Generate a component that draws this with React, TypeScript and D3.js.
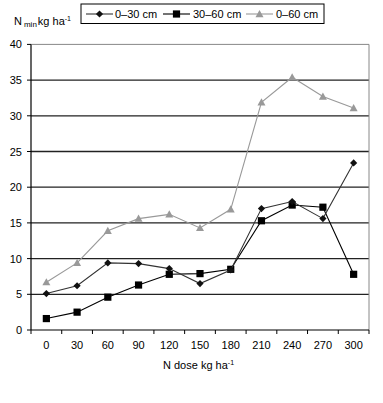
import React from "react";
import * as d3 from "d3";

const doses = ["0", "30", "60", "90", "120", "150", "180", "210", "240", "270", "300"];
const s0_30 = [5.1, 6.2, 9.4, 9.3, 8.6, 6.5, 8.4, 17.0, 18.0, 15.6, 23.4];
const s30_60 = [1.6, 2.5, 4.6, 6.3, 7.8, 7.9, 8.5, 15.3, 17.5, 17.2, 7.8];
const s0_60 = [6.7, 9.4, 13.9, 15.6, 16.2, 14.3, 16.9, 31.9, 35.4, 32.7, 31.1];
const yTicks = [0, 5, 10, 15, 20, 25, 30, 35, 40];
const seriesNames = ["0–30 cm", "30–60 cm", "0–60 cm"];

const W = 383, H = 403;
const L = 31, R = 369, T = 44.4, B = 330;
const FONT = "'Liberation Sans', Arial, sans-serif";

function Marker({ kind, x, y }: { kind: string; x: number; y: number }) {
  if (kind === "diamond") {
    const s = 3.6;
    return <path d={`M${x},${y - s}L${x + s},${y}L${x},${y + s}L${x - s},${y}Z`} fill="#111" />;
  }
  if (kind === "square") {
    const s = 3.6;
    return <rect x={x - s} y={y - s} width={2 * s} height={2 * s} fill="#000" />;
  }
  const s = 4;
  return <path d={`M${x},${y - s}L${x + s},${y + s * 0.8}L${x - s},${y + s * 0.8}Z`} fill="#999" />;
}

export default function App() {
  const x = d3.scaleBand<string>().domain(doses).range([L, R]);
  const y = d3.scaleLinear().domain([0, 40]).range([B, T]);
  const cx = (d: string) => (x(d) as number) + x.bandwidth() / 2;

  const series = [
    { name: seriesNames[0], data: s0_30, color: "#333", kind: "diamond" },
    { name: seriesNames[1], data: s30_60, color: "#000", kind: "square" },
    { name: seriesNames[2], data: s0_60, color: "#999", kind: "triangle" },
  ];
  const line = d3
    .line<number>()
    .x((_, i) => cx(doses[i]))
    .y((v) => y(v));

  const legendItems = [
    { x1: 86, x2: 113, tx: 115 },
    { x1: 163, x2: 190, tx: 193 },
    { x1: 246, x2: 273, tx: 276 },
  ];

  return (
    <svg width={W} height={H} style={{ position: "absolute", left: 0, top: 0, background: "#fff" }} fontFamily={FONT}>
      {/* gridlines */}
      {yTicks.filter((t) => t > 0 && t < 40).map((t) => (
        <line key={t} x1={L} x2={R} y1={y(t)} y2={y(t)} stroke="#222" strokeWidth={1.3} />
      ))}
      {/* plot border top/right */}
      <line x1={L} x2={R} y1={y(40)} y2={y(40)} stroke="#888" strokeWidth={1} />
      <line x1={R} x2={R} y1={y(40)} y2={B} stroke="#888" strokeWidth={1} />
      {/* axes */}
      <line x1={L} x2={L} y1={y(40)} y2={B} stroke="#000" strokeWidth={1.2} />
      <line x1={L} x2={R} y1={B} y2={B} stroke="#000" strokeWidth={1.2} />
      {yTicks.map((t) => (
        <g key={t}>
          <line x1={L - 4} x2={L} y1={y(t)} y2={y(t)} stroke="#000" />
          <text x={22} y={y(t) + 4} textAnchor="end" fontSize={11} fill="#000">{t}</text>
        </g>
      ))}
      {doses.map((d, i) => (
        <g key={d}>
          <line x1={(x(d) as number)} x2={(x(d) as number)} y1={B} y2={B + 4} stroke="#000" />
          {i === doses.length - 1 && (
            <line x1={R} x2={R} y1={B} y2={B + 4} stroke="#000" />
          )}
          <text x={cx(d)} y={B + 19} textAnchor="middle" fontSize={11} fill="#000">{d}</text>
        </g>
      ))}
      {/* series */}
      {series.slice().reverse().map((s) => (
        <g key={s.name}>
          <path d={line(s.data) || ""} fill="none" stroke={s.color} strokeWidth={1.1} />
          {s.data.map((v, i) => (
            <Marker key={i} kind={s.kind} x={cx(doses[i])} y={y(v)} />
          ))}
        </g>
      ))}
      {/* axis titles */}
      <text x={14} y={25} fontSize={11} fill="#000">
        N<tspan fontSize={8} dy={2} dx={2}>min</tspan>
        <tspan dy={-2} dx={1}>kg ha</tspan>
        <tspan fontSize={7} dy={-4}>-1</tspan>
      </text>
      <text x={163} y={369} fontSize={11} fill="#000">
        N dose kg ha<tspan fontSize={7} dy={-4}>-1</tspan>
      </text>
      {/* legend */}
      <rect x={81} y={4} width={243} height={19.5} fill="#fff" stroke="#000" strokeWidth={1} />
      {series.map((s, i) => {
        const it = legendItems[i];
        const my = 14;
        return (
          <g key={s.name}>
            <line x1={it.x1} x2={it.x2} y1={my} y2={my} stroke={s.color} strokeWidth={1.1} />
            <Marker kind={s.kind} x={(it.x1 + it.x2) / 2} y={my} />
            <text x={it.tx} y={my + 4} fontSize={11} fill="#000">{s.name}</text>
          </g>
        );
      })}
    </svg>
  );
}
